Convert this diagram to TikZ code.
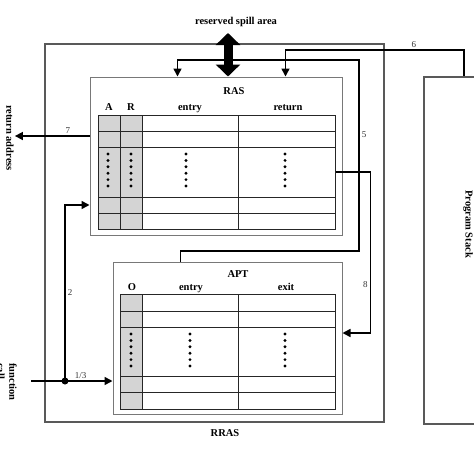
\documentclass[tikz,border=0pt]{standalone}
\usepackage{fontspec}
\setmainfont{Liberation Serif}
\usetikzlibrary{arrows.meta, positioning, calc}
\definecolor{BoxGray}{RGB}{120,120,120}
\definecolor{CellGray}{RGB}{212,212,212}

\begin{document}
\begin{tikzpicture}[
        x=1pt, y=-1pt,
        boxframe/.style={rectangle, draw=BoxGray, line width=1pt, inner sep=0pt},
        outerbox/.style={boxframe, draw=black!65, line width=2.2pt},
        tabline/.style={draw=black!85, line width=1pt},
        lbl/.style={font=\fontsize{10.5}{12}\selectfont\bfseries, inner sep=1pt},
        head/.style={lbl, anchor=base},
        numlbl/.style={font=\fontsize{9}{10}\selectfont, text=black!80, inner sep=2pt},
        conn/.style={line width=1.6pt},
        arrow/.style={conn, -{Triangle[length=8pt,width=8pt]}},
        bigarrow/.style={line width=9pt, {Triangle[length=12pt,width=24pt]}-{Triangle[length=12pt,width=24pt]}}
    ]
        \useasboundingbox (0,0) rectangle (474,474);

        % boxes
        \node[outerbox, minimum width=339pt, minimum height=378pt] (rras) at (214.5,233) {};
        \node[boxframe, minimum width=252pt, minimum height=158pt] (ras) at (216,156) {};
        \node[boxframe, minimum width=229pt, minimum height=152pt] (apt) at (227.5,338) {};
        \node[outerbox, minimum width=100pt, minimum height=347pt] (stack) at (474,250.5) {};

        % RAS table
        \fill[CellGray] (98,115) rectangle (142,229);
        \node[tabline, rectangle, inner sep=0pt, minimum width=237pt, minimum height=114pt] (rastab) at (216.5,172) {};
        \foreach \y in {131,147,197,213} \draw[tabline] (98,\y) -- (335,\y);
        \foreach \x in {120,142,238} \draw[tabline] (\x,115) -- (\x,229);
        \foreach \x in {108,131,186,285} \foreach \k in {0,...,5} \fill (\x,154+6.4*\k) circle (1.6pt);

        % APT table
        \fill[CellGray] (120,294) rectangle (142,409);
        \node[tabline, rectangle, inner sep=0pt, minimum width=215pt, minimum height=115pt] (apttab) at (227.5,351.5) {};
        \foreach \y in {311,327,376,392} \draw[tabline] (120,\y) -- (335,\y);
        \foreach \x in {142,238} \draw[tabline] (\x,294) -- (\x,409);
        \foreach \x in {131,190,285} \foreach \k in {0,...,5} \fill (\x,334+6.4*\k) circle (1.6pt);

        % titles and headers
        \node[lbl] (spill) at (236,22) {reserved spill area};
        \node[head] (rastitle) at (234,94) {RAS};
        \node[head] (hA) at (109,110) {A};
        \node[head] (hR) at (131,110) {R};
        \node[head] (hentry) at (190,110) {entry};
        \node[head] (hreturn) at (288,110) {return};
        \node[head] (apttitle) at (238,277) {APT};
        \node[head] (hO) at (132,290) {O};
        \node[head] (hentry2) at (191,290) {entry};
        \node[head] (hexit) at (286,290) {exit};
        \node[lbl] (rraslbl) at (225,433) {RRAS};
        \node[lbl, rotate=-90] (retaddr) at (10,138) {return address};
        \node[lbl, rotate=-90, align=left] (func) at (7,382) {function\\call};
        \node[lbl, rotate=-90] (stacklbl) at (468,224) {Program Stack};

        % connectors
        \coordinate (spilltip) at (228,33);
        \coordinate (fork) at (228,60);
        \coordinate (c5) at (359,251);
        \coordinate (st6) at ($(stack.north west)+(41,0)$);
        \coordinate (ra7) at ($(ras.west)+(0,-20)$);
        \coordinate (fcin) at (31,381);
        \coordinate (jn) at (65,381);

        \draw[arrow] (fork) -| ($(ras.north west)+(88,0)$);
        \draw[conn] (fork) -- (fork -| c5) -- node[numlbl, pos=0.39, right] {5} (c5) -| ($(apt.north west)+(68,0)$);
        \draw[bigarrow] (spilltip) -- (spilltip |- ras.north);
        \draw[arrow] (st6) -- ++(0,-26) -| node[numlbl, pos=0.14, above] {6} ($(ras.north west)+(196,0)$);
        \draw[arrow] (rastab.east) -- ++(35,0) |- node[numlbl, pos=0.35, left] {8} ($(apt.east)+(0,-5)$);
        \draw[arrow] (ra7) -- node[numlbl, pos=0.29, above] {7} (ra7 -| retaddr.north);
        \draw[conn] (fcin) -- (jn);
        \draw[arrow] (jn) -- node[numlbl, pos=0.33, above] {1/3} (jn -| apt.west);
        \draw[arrow] (jn) |- node[numlbl, pos=0.25, right] {2} ($(ras.west)+(0,49)$);
        \fill (jn) circle (3.5pt);
    \end{tikzpicture}
\end{document}
